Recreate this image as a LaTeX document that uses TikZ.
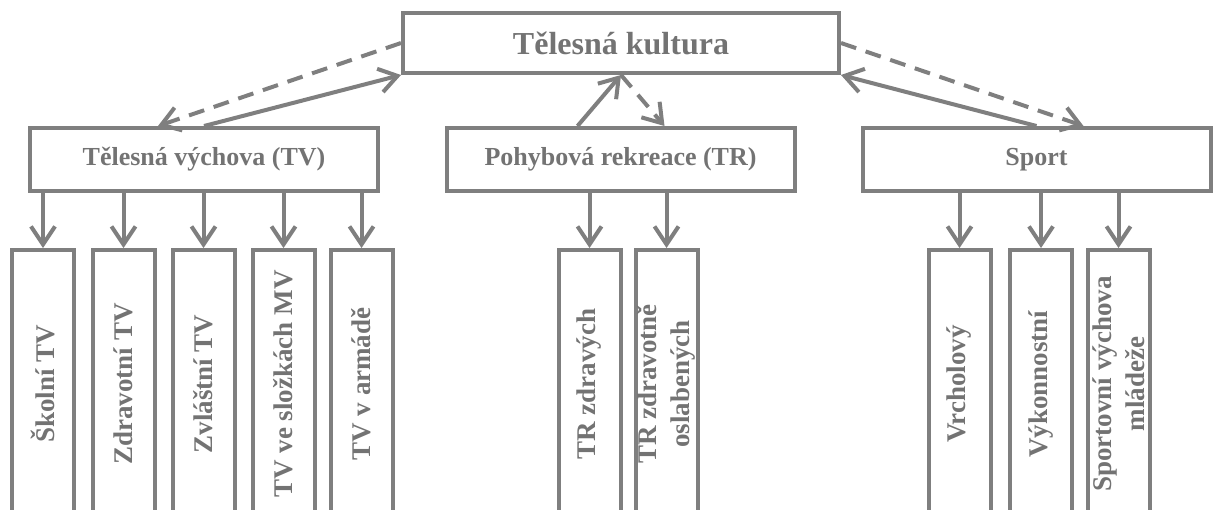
\documentclass[tikz,border=0pt]{standalone}
\usepackage{fontspec}
\setmainfont{Liberation Serif}
\usetikzlibrary{arrows.meta}
\definecolor{seda}{RGB}{127,127,127}
\definecolor{sedatext}{RGB}{115,115,115}
\tikzset{
  kultura/.style={draw=seda, line width=2pt, text=sedatext, font=\bfseries\fontsize{16}{19}\selectfont, minimum width=218pt, minimum height=30pt, inner sep=0pt},
  oblast/.style={draw=seda, line width=2pt, text=sedatext, font=\bfseries\fontsize{13}{15}\selectfont, minimum width=174pt, minimum height=31.5pt},
  druh/.style={draw=seda, line width=2pt, text=sedatext, font=\bfseries\fontsize{13.5}{16.5}\selectfont, rotate=90, anchor=east, minimum width=134pt, minimum height=31pt, inner sep=1pt, align=center},
  sipka/.style={draw=seda, line width=2pt, -{Straight Barb[length=9pt,width=12pt]}},
  carkovana/.style={sipka, dash pattern=on 8pt off 5pt},
}

\begin{document}
\begin{tikzpicture}[x=0.5pt, y=-0.5pt]
  \useasboundingbox (0,0) rectangle (1216,509);
  \node[kultura] (kult) at (621,43) {Tělesná kultura};
  \node[oblast] (tv) at (204,159.5) {Tělesná výchova (TV)};
  \node[oblast] (tr) at (620.5,159.5) {Pohybová rekreace (TR)};
  \node[oblast] (sport) at (1036.5,159.5) {Sport};
  % tělesná výchova
  \node[druh] (skolni) at (43,248) {Školní TV};
  \node[druh] (zdrav) at (123.5,248) {Zdravotní TV};
  \node[druh] (zvlast) at (203.5,248) {Zvláštní TV};
  \node[druh] (mv) at (283.5,248) {TV ve složkách MV};
  \node[druh] (armada) at (361.5,248) {TV v armádě};
  % rekreace
  \node[druh] (zdravi) at (589.5,248) {TR zdravých};
  \node[druh] (oslab) at (666.5,248) {TR zdravotně\\oslabených};
  % sport
  \node[druh] (vrchol) at (959.5,248) {Vrcholový};
  \node[druh] (vykon) at (1041,248) {Výkonnostní};
  \node[druh] (mladez) at (1118.5,248) {Sportovní výchova\\mládeže};
  \foreach \c in {skolni,zdrav,zvlast,mv,armada}
    \draw[sipka] (tv.south -| \c.east) -- (\c.east);
  \foreach \c in {zdravi,oslab}
    \draw[sipka] (tr.south -| \c.east) -- (\c.east);
  \foreach \c in {vrchol,vykon,mladez}
    \draw[sipka] (sport.south -| \c.east) -- (\c.east);
  % vazby nahoru a dolu
  \draw[carkovana] (kult.west) -- ([xshift=-23pt]tv.north);
  \draw[sipka] (tv.north) -- (kult.south west);
  \draw[sipka] ([xshift=-21.5pt]tr.north) -- (kult.south);
  \draw[carkovana] (kult.south) -- ([xshift=22pt]tr.north);
  \draw[carkovana] (kult.east) -- ([xshift=23.5pt]sport.north);
  \draw[sipka] (sport.north) -- (kult.south east);
\end{tikzpicture}
\end{document}
